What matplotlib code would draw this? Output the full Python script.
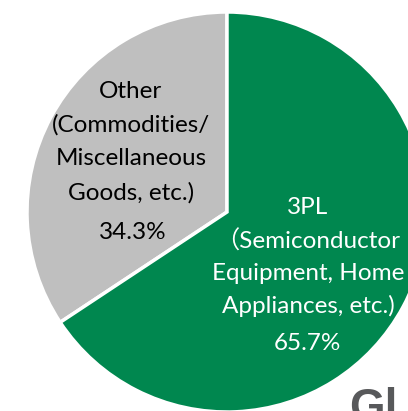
import matplotlib.pyplot as plt

labels = ['Other\n(Commodities/\nMiscellaneous\nGoods, etc.)',
          '3PL\n\uff08Semiconductor\nEquipment, Home\nAppliances, etc.)']
shares = [34.3, 65.7]
colors = ['#BFBFBF', '#00874F']
text_colors = ['black', 'white']

W, H = 408, 411
fig = plt.figure(figsize=(W / 100, H / 100), dpi=100)
ax = fig.add_axes([0, 0, 1, 1])

# pie centre / radius in pixels (y counted from bottom)
cx, cy, r = 227, H - 212, 200
ax.pie(shares, colors=colors, startangle=90, counterclock=True,
       center=(cx, cy), radius=r,
       wedgeprops=dict(edgecolor='white', linewidth=2.5))
ax.set_xlim(0, W)
ax.set_ylim(0, H)
ax.set_aspect('auto')
ax.axis('off')

font = ['Lato', 'Noto Sans CJK JP', 'DejaVu Sans']
label_pos = [(131, 142), (308, 257)]
spacing = [1.72, 1.62]
pct_pos = [(133, 232), (307, 343)]
for lab, s, (lx, ly), ls, (px, py), tc in zip(labels, shares, label_pos, spacing,
                                               pct_pos, text_colors):
    ax.text(lx, H - ly, lab, ha='center', va='center', fontsize=17.5,
            color=tc, family=font, linespacing=ls)
    ax.text(px, H - py, '{:.1f}%'.format(s), ha='center', va='center',
            fontsize=17.5, color=tc, family=font)

# cut-off logo text at the bottom right
fig.text(349 / W, 1 - 387 / H, 'Gl', ha='left', va='top', fontsize=33,
         fontweight='bold', color='#58595B', family='Liberation Sans')

fig.savefig('out.png', dpi=100)
